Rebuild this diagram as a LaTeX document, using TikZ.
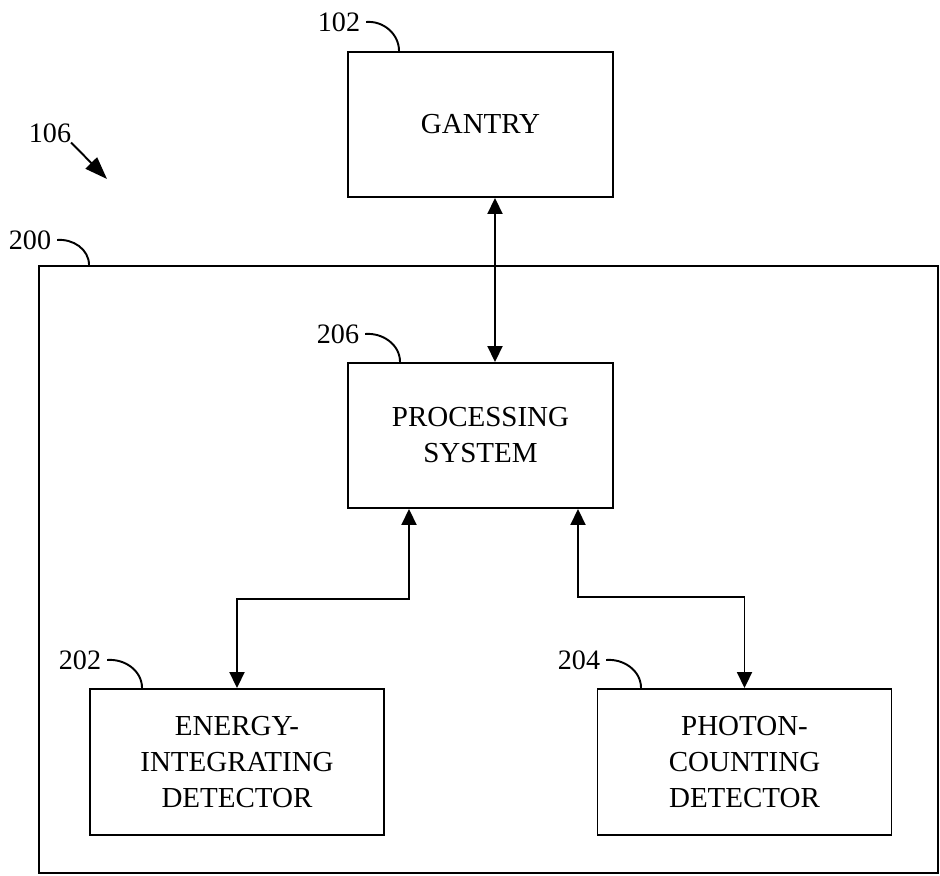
\documentclass[tikz,border=0pt]{standalone}
\usepackage{fontspec}
\setmainfont{Liberation Serif}
\usetikzlibrary{arrows.meta}

\begin{document}
\begin{tikzpicture}[line width=1.1pt,
  >={Triangle[length=3.2mm,width=3mm]},
  box/.style={rectangle,draw,align=center,font=\fontsize{16.5}{20.5}\selectfont},
  tag/.style={font=\fontsize{16}{19}\selectfont,inner sep=1mm}]
\useasboundingbox (0,0) rectangle (18.8,-17.5);
\node [box,minimum width=5.3cm,minimum height=2.9cm] (gantry) at (9.61,-2.49) {GANTRY};
\node [rectangle,draw,minimum width=17.98cm,minimum height=12.14cm] (sys) at (9.77,-11.39) {};
\node [box,minimum width=5.3cm,minimum height=2.9cm] (proc) at (9.61,-8.71) {PROCESSING\\SYSTEM};
\node [box,minimum width=5.88cm,minimum height=2.92cm] (energy) at (4.74,-15.24) {ENERGY-\\INTEGRATING\\DETECTOR};
\node [box,minimum width=5.88cm,minimum height=2.92cm] (photon) at (14.89,-15.24) {PHOTON-\\COUNTING\\DETECTOR};
% reference numerals
\node [tag] (l102) at (6.78,-0.44) {102};
\node [tag] (l106) at (1.0,-2.66) {106};
\node [tag] (l200) at (0.6,-4.8) {200};
\node [tag] (l206) at (6.76,-6.68) {206};
\node [tag] (l202) at (1.6,-13.2) {202};
\node [tag] (l204) at (11.58,-13.2) {204};
\coordinate (p106) at (2.14,-3.58);
\draw (l102.east) to[out=5,in=90] ([xshift=10.4mm]gantry.north west);
\draw (l200.east) to[out=5,in=90] ([xshift=10.2mm]sys.north west);
\draw (l206.east) to[out=5,in=90] ([xshift=10.6mm]proc.north west);
\draw (l202.east) to[out=5,in=90] ([xshift=10.6mm]energy.north west);
\draw (l204.east) to[out=5,in=90] ([xshift=8.9mm]photon.north west);
\draw [-{Triangle[length=4.5mm,width=3.2mm]}] ([xshift=-1.2mm,yshift=1.2mm]l106.south east) -- (p106);
% links
\draw [<->] ([xshift=2.9mm]gantry.south) -- ([xshift=2.9mm]proc.north);
\draw [<->] ([xshift=-14.3mm]proc.south) -- ++(0,-1.8) -| (energy.north);
\draw [<->] ([xshift=19.5mm]proc.south) -- ++(0,-1.76) -| (photon.north);
\end{tikzpicture}
\end{document}
